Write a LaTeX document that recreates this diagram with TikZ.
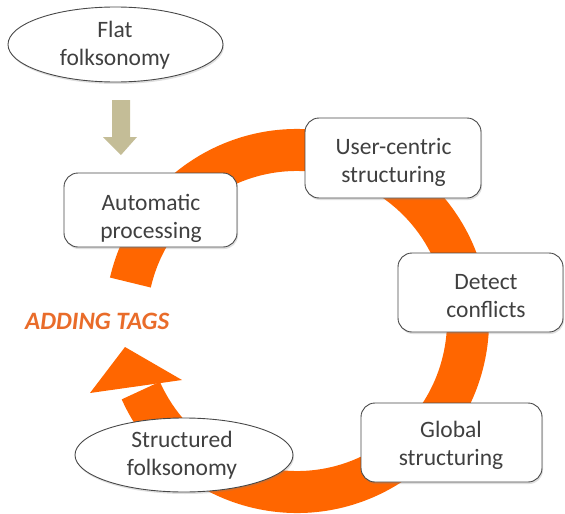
\documentclass[tikz,border=0pt]{standalone}
\usepackage{fontspec}
\setmainfont{Carlito}
\usetikzlibrary{shapes.geometric,shadows}
\definecolor{ringorange}{RGB}{255,102,0}
\definecolor{tagorange}{RGB}{233,108,42}
\definecolor{arrowtan}{RGB}{196,189,151}
\definecolor{txtgray}{RGB}{64,64,64}
\definecolor{edgegray}{RGB}{72,72,72}
\begin{document}
\begin{tikzpicture}[x=1pt,y=-1pt,
  shapebase/.style={draw=edgegray, line width=0.9pt, fill=white, inner sep=0pt,
    drop shadow={shadow xshift=1pt, shadow yshift=-2pt, opacity=0.25}},
  roundbox/.style={shapebase, rectangle, rounded corners=14pt},
  ellnode/.style={shapebase, ellipse},
  lbl/.style={align=center, inner sep=0pt, anchor=base, text=txtgray,
    font=\fontsize{23.5}{27.5}\selectfont},
  ring/.style={draw=ringorange, line width=42pt, line cap=butt}]
\useasboundingbox (0,0) rectangle (565,514);
% cycle ring with arrow head
\draw[ring] (297,321) ++(193:171) arc[start angle=193, end angle=516, radius=171];
\fill[ringorange] (125,347) -- (182,380) -- (90,393) -- cycle;
% tan arrow
\fill[arrowtan] (112,100) -- (130,100) -- (130,137) -- (137,137) -- (121,155) -- (103,137) -- (112,137) -- cycle;
% nodes
\node[ellnode, minimum width=215pt, minimum height=75pt] (flat) at (115.5,44.5) {};
\node[lbl] (flatT) at (115,65) {Flat\\folksonomy};
\node[roundbox, minimum width=173pt, minimum height=74pt] (ap) at (150.5,210) {};
\node[lbl] (apT) at (151,238) {Automatic\\processing};
\node[roundbox, minimum width=176pt, minimum height=80pt] (uc) at (393,158) {};
\node[lbl] (ucT) at (393.5,182) {User-centric\\structuring};
\node[roundbox, minimum width=165pt, minimum height=79pt] (dc) at (480.5,292.5) {};
\node[lbl] (dcT) at (486,317) {Detect\\conflicts};
\node[roundbox, minimum width=181pt, minimum height=79pt] (gs) at (451.5,442.5) {};
\node[lbl] (gsT) at (451,465) {Global\\structuring};
\node[ellnode, minimum width=218pt, minimum height=74pt] (sf) at (184,455) {};
\node[lbl] (sfT) at (182,475) {Structured\\folksonomy};
\node[inner sep=0pt, anchor=base west, text=tagorange,
  font=\bfseries\itshape\fontsize{25}{30}\selectfont] (tags) at (25,329) {ADDING TAGS};
\end{tikzpicture}
\end{document}
